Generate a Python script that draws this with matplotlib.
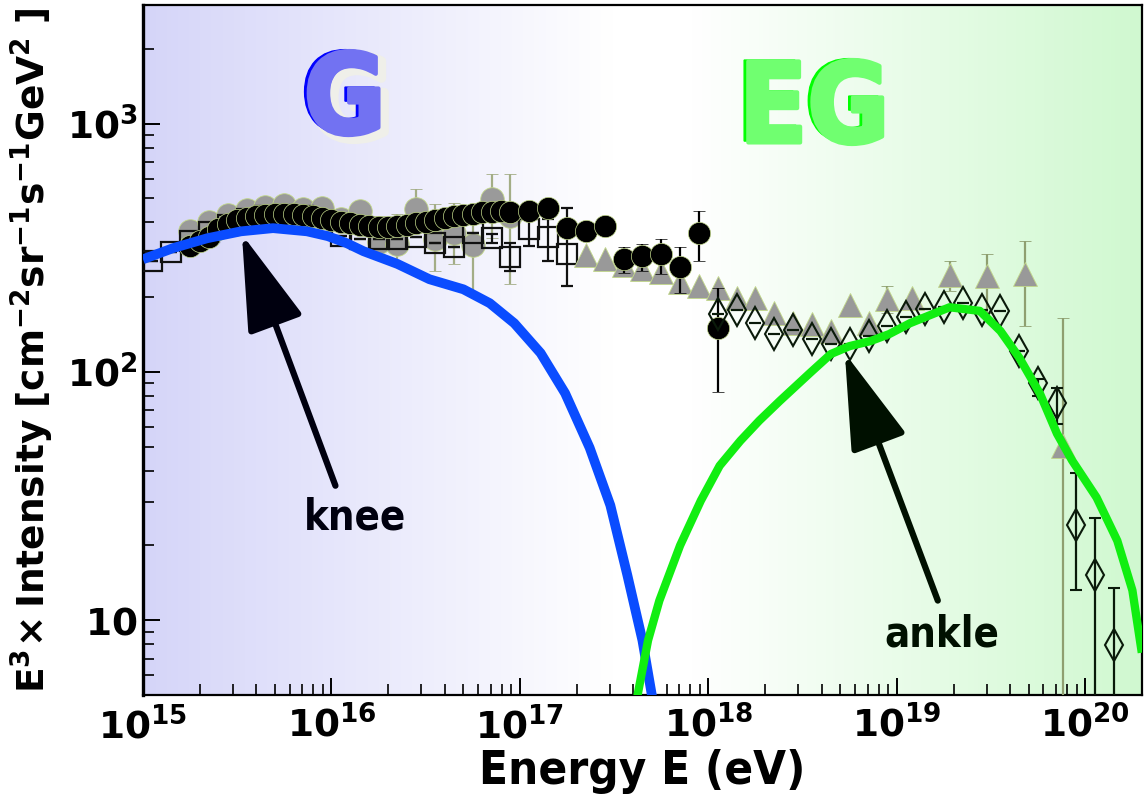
import numpy as np
import matplotlib
matplotlib.use("Agg")
import matplotlib.pyplot as plt
from matplotlib import patheffects as pe
from matplotlib.ticker import LogLocator, NullFormatter, FixedLocator, FixedFormatter

# ---------------- data: log10(E/eV) and E^3 x intensity ----------------
gal_logE = [15.00, 15.16, 15.34, 15.52, 15.69, 15.87, 15.98, 16.08, 16.17, 16.35, 16.52,
            16.70, 16.84, 16.97, 17.11, 17.24, 17.37, 17.48, 17.57, 17.65, 17.70, 17.72]
gal_flux = [284, 315, 345, 368, 379, 368, 352, 330, 306, 272, 236,
            215, 189, 157, 119, 82, 49.5, 29.0, 15.2, 8.3, 5.0, 4.0]

xgal_logE = [17.60, 17.68, 17.74, 17.85, 17.96, 18.06, 18.17, 18.27, 18.38, 18.54,
             18.65, 18.75, 18.86, 18.96, 19.07, 19.28, 19.44, 19.55, 19.65, 19.76,
             19.85, 19.93, 20.06, 20.17, 20.25, 20.30]
xgal_flux = [4.0, 8.3, 12.0, 20.0, 30.3, 41.9, 52.8, 63.6, 76.5, 99.1,
             118, 127, 133, 142, 157, 182, 176, 146, 114, 81.6,
             56.4, 44.0, 31.2, 20.9, 13.2, 7.4]

grey_logE = [15.25, 15.35, 15.45, 15.55, 15.65, 15.75, 15.85, 15.95, 16.05,
             16.15, 16.25, 16.35, 16.45, 16.55, 16.65, 16.75, 16.85, 16.95]
grey_flux = [368, 400, 427, 448, 460, 469, 452, 456, 411,
             444, 333, 327, 452, 342, 361, 324, 495, 424]
grey_hi = [368, 400, 427, 448, 460, 469, 452, 456, 411,
           487, 424, 432, 543, 473, 477, 465, 624, 624]
grey_lo = [368, 400, 427, 448, 460, 469, 452, 456, 411,
           404, 298, 274, 375, 255, 272, 207, 345, 226]

sq_logE = [15.05, 15.15, 15.25, 15.35, 15.45, 15.55, 15.65, 15.75, 15.85, 15.95,
           16.05, 16.15, 16.25, 16.35, 16.45, 16.55, 16.65, 16.75, 16.85, 16.95,
           17.05, 17.15, 17.25]
sq_flux = [279, 303, 336, 365, 389, 411, 424, 430, 424, 397,
           352, 342, 342, 342, 348, 330, 318, 361, 345, 290,
           375, 348, 298]
sq_hi = [279, 303, 336, 365, 389, 411, 424, 430, 424, 397,
         352, 342, 342, 342, 348, 330, 318, 361, 360, 330,
         415, 411, 456]
sq_lo = [279, 303, 336, 365, 389, 411, 424, 430, 424, 397,
         352, 342, 342, 342, 348, 330, 318, 361, 330, 255,
         321, 279, 221]

blk_logE = [15.25, 15.30, 15.35, 15.40, 15.45, 15.50, 15.55, 15.60, 15.65, 15.70,
            15.75, 15.80, 15.85, 15.90, 15.95, 16.00, 16.05, 16.10, 16.15, 16.20,
            16.25, 16.30, 16.35, 16.40, 16.45, 16.50, 16.55, 16.60, 16.65, 16.70,
            16.75, 16.80, 16.85, 16.90, 16.95,
            17.05, 17.15, 17.25, 17.35, 17.45, 17.55, 17.65, 17.75, 17.85, 17.95, 18.05]
blk_flux = [321, 336, 348, 375, 393, 408, 415, 423, 427, 431,
            431, 431, 427, 423, 415, 408, 400, 396, 389, 386,
            382, 382, 386, 389, 396, 400, 408, 415, 423, 427,
            431, 440, 440, 444, 440,
            444, 456, 379, 368, 386, 284, 292, 298, 264, 361, 150]
blk_hi = blk_flux[:40] + [318, 327, 342, 318, 444, 217]
blk_lo = blk_flux[:40] + [250, 255, 248, 207, 279, 83]

tri_logE = [17.35, 17.45, 17.55, 17.65, 17.75, 17.85, 17.95, 18.05, 18.15, 18.25,
            18.35, 18.45, 18.55, 18.65, 18.75, 18.85, 18.95, 19.08, 19.28, 19.48,
            19.68, 19.88]
tri_flux = [295, 285, 269, 259, 252, 230, 221, 217, 198, 198,
            173, 157, 156, 146, 186, 157, 196, 198, 245, 243,
            248, 50.5]
tri_hi = tri_flux[:16] + [221, 198, 279, 298, 336, 165]
tri_lo = tri_flux[:16] + [173, 198, 211, 173, 153, 1.0]

dia_logE = [18.05, 18.15, 18.25, 18.35, 18.45, 18.55, 18.65, 18.75, 18.85, 18.95,
            19.05, 19.15, 19.25, 19.35, 19.45, 19.55, 19.65, 19.75, 19.85, 19.95,
            20.05, 20.15]
dia_flux = [171, 177, 157, 142, 148, 136, 130, 130, 140, 153,
            166, 179, 182, 189, 177, 176, 121, 90.3, 75.1, 24.1,
            15.2, 7.94]
dia_hi = dia_flux[:17] + [94, 86.3, 39.3, 25.7, 13.5]
dia_lo = dia_flux[:17] + [80, 61.8, 13.2, 1.0, 1.0]

ytick_vals = [10, 100, 1000]
ytick_text = [r"$\mathbf{10}$", r"$\mathbf{10^{2}}$", r"$\mathbf{10^{3}}$"]
xtick_exp = [15, 16, 17, 18, 19, 20]

# ---------------- helpers ----------------
def E(logs):
    return 10.0 ** np.asarray(logs, dtype=float)

def yerr(v, hi, lo):
    v, hi, lo = (np.asarray(a, dtype=float) for a in (v, hi, lo))
    return np.vstack([v - lo, hi - v])

plt.rcParams["mathtext.fontset"] = "dejavusans"
FONT = dict(family="DejaVu Sans", weight="bold", stretch="condensed")

fig = plt.figure(figsize=(11.44, 7.97), dpi=100)
rect = [143 / 1144, 102 / 797, 999 / 1144, 690 / 797]

# background: galactic (lavender) fading to white, then extragalactic (pale green)
bg = fig.add_axes(rect, zorder=0)
t = np.linspace(0, 1, 600)
lav = np.array([0.835, 0.835, 0.975])
grn = np.array([0.815, 0.975, 0.815])
wb = np.clip(1 - t / 0.47, 0, 1)[:, None]
wg = np.clip((t - 0.55) / 0.45, 0, 1)[:, None]
col = np.ones((t.size, 3)) * (1 - wb - wg) + lav * wb + grn * wg
bg.imshow(col[None, :, :], aspect="auto", extent=[0, 1, 0, 1])
bg.set_axis_off()

ax = fig.add_axes(rect, zorder=1)
ax.patch.set_alpha(0)
ax.set_xscale("log")
ax.set_yscale("log")

edge = "#c2d88a"
ax.errorbar(E(grey_logE), grey_flux, yerr=yerr(grey_flux, grey_hi, grey_lo),
            fmt="o", ms=17, mfc="#9a9a9a", mec=edge, mew=0.6,
            ecolor="#a3ad86", elinewidth=1.6, capsize=4, capthick=1.6, zorder=2)
ax.errorbar(E(sq_logE), sq_flux, yerr=yerr(sq_flux, sq_hi, sq_lo),
            fmt="s", ms=15, mfc="none", mec="#111111", mew=1.6,
            ecolor="#111111", elinewidth=1.6, capsize=4, capthick=1.6, zorder=3)
ax.errorbar(E(tri_logE), tri_flux, yerr=yerr(tri_flux, tri_hi, tri_lo),
            fmt="^", ms=17, mfc="#999999", mec=edge, mew=0.6,
            ecolor="#8f9f70", elinewidth=1.6, capsize=4, capthick=1.6, zorder=3)
ax.errorbar(E(blk_logE), blk_flux, yerr=yerr(blk_flux, blk_hi, blk_lo),
            fmt="o", ms=16, mfc="black", mec=edge, mew=0.5,
            ecolor="black", elinewidth=1.6, capsize=4, capthick=1.6, zorder=4)
ax.errorbar(E(dia_logE), dia_flux, yerr=yerr(dia_flux, dia_hi, dia_lo),
            fmt="d", ms=16, mfc="none", mec="#0a1a0a", mew=1.5,
            ecolor="#0a1a0a", elinewidth=1.6, capsize=4, capthick=1.6, zorder=4)

ax.plot(E(gal_logE), gal_flux, color="#0a4cff", lw=7, solid_capstyle="butt", zorder=5)
ax.plot(E(xgal_logE), xgal_flux, color="#11ee11", lw=6, solid_capstyle="butt", zorder=5)

ax.set_xlim(1e15, 2e20)
ax.set_ylim(5, 3000)

# axes, ticks and labels
for s in ax.spines.values():
    s.set_linewidth(1.6)
ax.spines["left"].set_linewidth(2.4)
ax.xaxis.set_major_locator(FixedLocator([10.0 ** k for k in xtick_exp]))
ax.xaxis.set_major_formatter(FixedFormatter([r"$\mathbf{10^{%d}}$" % k for k in xtick_exp]))
ax.xaxis.set_minor_locator(LogLocator(base=10, subs=np.arange(2, 10), numticks=30))
ax.xaxis.set_minor_formatter(NullFormatter())
ax.yaxis.set_major_locator(FixedLocator(ytick_vals))
ax.yaxis.set_major_formatter(FixedFormatter(ytick_text))
ax.yaxis.set_minor_locator(LogLocator(base=10, subs=np.arange(2, 10), numticks=30))
ax.yaxis.set_minor_formatter(NullFormatter())
ax.tick_params(which="both", direction="in", top=False, right=False, color="black")
ax.tick_params(which="major", length=12, width=1.4, labelsize=27)
ax.tick_params(which="minor", length=8, width=1.2)
ax.tick_params(axis="x", which="major", pad=8)
ax.tick_params(axis="y", which="major", pad=4)

ax.set_xlabel("Energy E (eV)", fontsize=34, labelpad=2, **FONT)
ax.set_ylabel(r"$\mathbf{E^{3}\!\times Intensity\ [cm^{-2}sr^{-1}s^{-1}GeV^{2}\ ]}$",
              fontsize=27, labelpad=8)

# region labels
ax.text(0.202, 0.858, "G", transform=ax.transAxes, ha="center", va="center",
        fontsize=80, color="#7272f2", zorder=6, **FONT,
        path_effects=[pe.Stroke(linewidth=7, foreground="#efefe9", offset=(4, -3)),
                      pe.PathPatchEffect(offset=(-3, 1), facecolor="#0000ff",
                                         edgecolor="#0000ff", linewidth=1),
                      pe.Stroke(linewidth=3, foreground="#7272f2"),
                      pe.Normal()])
ax.text(0.672, 0.845, "EG", transform=ax.transAxes, ha="center", va="center",
        fontsize=80, color="#70ff70", zorder=6, **FONT,
        path_effects=[pe.PathPatchEffect(offset=(-3, 1), facecolor="#00ff00",
                                         edgecolor="#00ff00", linewidth=1),
                      pe.Stroke(linewidth=3, foreground="#70ff70"),
                      pe.Normal()])

# knee and ankle annotations
arrow = dict(arrowstyle="-|>,head_length=3.0,head_width=0.9", mutation_scale=20,
             lw=4.5, color="#00000f", shrinkA=0, shrinkB=0)
ax.annotate("", xy=(3.35e15, 358), xytext=(1.05e16, 34.8), arrowprops=arrow, zorder=7)
ax.annotate("", xy=(5.3e18, 119), xytext=(1.65e19, 12.0),
            arrowprops=dict(arrow, color="#001000"), zorder=7)
ax.text(0.212, 0.257, "knee", transform=ax.transAxes, ha="center", va="center",
        fontsize=30, color="#00000f", zorder=7, **FONT)
ax.text(0.800, 0.087, "ankle", transform=ax.transAxes, ha="center", va="center",
        fontsize=30, color="#001000", zorder=7, **FONT)

fig.savefig("out.png", dpi=100)
